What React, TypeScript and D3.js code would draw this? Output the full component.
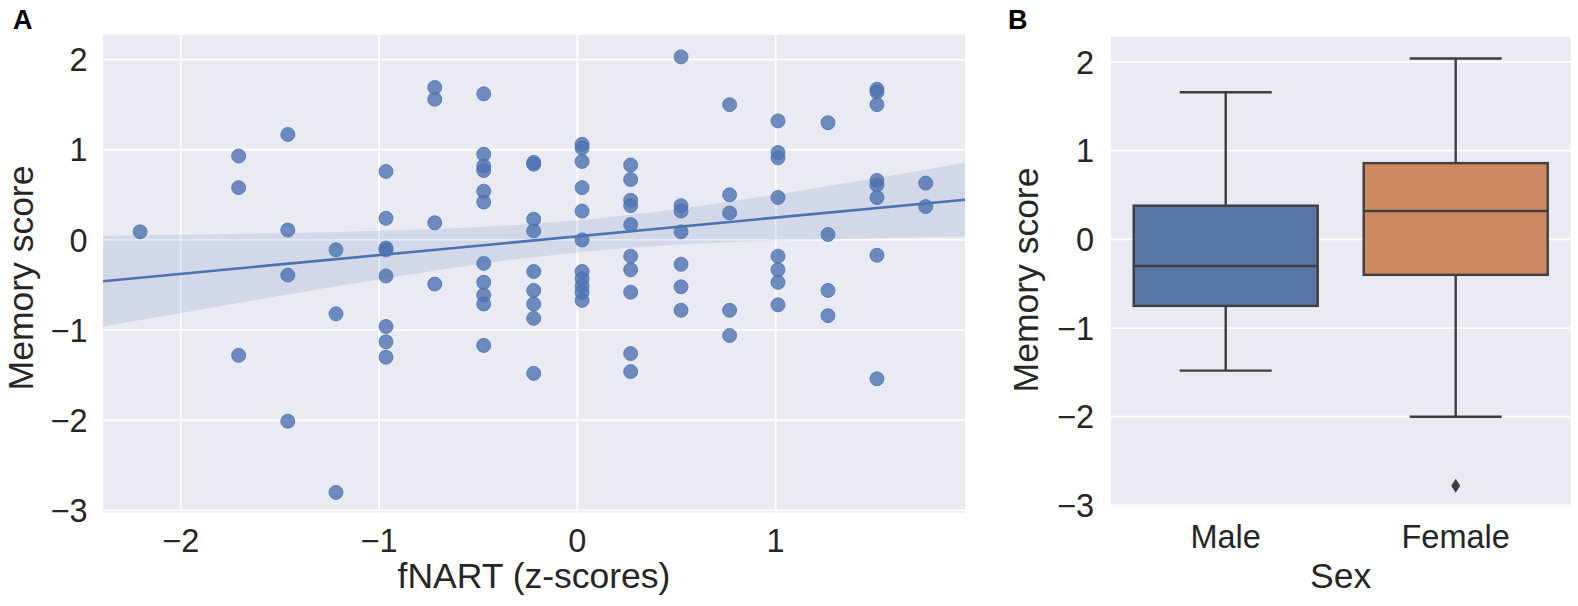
import React from 'react';
import * as d3 from 'd3';

// fNART z-score levels (x positions of the point columns)
const fnartLevels = [-2.205, -1.708, -1.46, -1.217, -0.965, -0.719, -0.472, -0.22, 0.024, 0.269, 0.523, 0.768, 1.012, 1.264, 1.511, 1.757];

// memory scores for each fNART level
const memoryByLevel = [
    [0.09],
    [0.93, 0.58, -1.28],
    [1.17, 0.11, -0.39, -2.01],
    [-0.11, -0.82, -2.8],
    [0.76, 0.24, -0.09, -0.11, -0.4, -0.96, -1.13, -1.3],
    [1.69, 1.56, 0.19, -0.49],
    [1.62, 0.95, 0.82, 0.77, 0.54, 0.42, -0.26, -0.47, -0.61, -0.71, -1.17],
    [0.86, 0.84, 0.23, 0.1, -0.35, -0.56, -0.71, -0.87, -1.48],
    [1.06, 1.02, 0.87, 0.58, 0.32, 0.0, -0.35, -0.43, -0.51, -0.58, -0.67],
    [0.83, 0.67, 0.44, 0.38, 0.17, -0.18, -0.33, -0.58, -1.26, -1.46],
    [2.03, 0.38, 0.32, 0.09, -0.27, -0.52, -0.78],
    [1.5, 0.5, 0.3, -0.78, -1.06],
    [1.32, 0.97, 0.91, 0.47, -0.18, -0.33, -0.47, -0.72],
    [1.3, 0.06, -0.56, -0.84],
    [1.67, 1.64, 1.5, 0.66, 0.61, 0.47, -0.17, -1.54],
    [0.63, 0.37],
];

// box plot, panel B
const sexes = ['Male', 'Female'];
const whiskerLow = [-1.48, -2.0];
const boxQ1 = [-0.75, -0.4];
const boxMedian = [-0.3, 0.32];
const boxQ3 = [0.38, 0.86];
const whiskerHigh = [1.66, 2.04];
const outliers = [[], [-2.78]];
const boxColors = ['#5975a4', '#cc8963'];

const yTicks = [-3, -2, -1, 0, 1, 2];
const xTicksA = [-2, -1, 0, 1];

const FONT = '"Liberation Sans", Arial, Helvetica, sans-serif';
const BG = '#eaeaf2';
const BLUE = '#4c72b0';
const LINE = '#3f3f3f';
const TXT = '#262626';

const fmt = (v: number) => (v < 0 ? '\u2212' + Math.abs(v) : String(v));

export default function App() {
    // panel A scales
    const xA = d3.scaleLinear().domain([-2.392, 1.955]).range([103, 965]);
    const yA = d3.scaleLinear().domain([-3.025, 2.276]).range([512.7, 34.7]);

    // panel B scales
    const xB = d3.scaleBand().domain(sexes).range([1110.7, 1570.7]).paddingInner(0).paddingOuter(0);
    const yB = d3.scaleLinear().domain([-3.015, 2.286]).range([506.7, 36.7]);

    const points = fnartLevels.flatMap((x, i) => memoryByLevel[i].map(y => ({ x, y })));

    // ordinary least squares fit with 95% CI of the mean
    const n = points.length;
    const xbar = d3.mean(points, p => p.x)!;
    const ybar = d3.mean(points, p => p.y)!;
    const sxx = d3.sum(points, p => (p.x - xbar) ** 2);
    const sxy = d3.sum(points, p => (p.x - xbar) * (p.y - ybar));
    const slope = sxy / sxx;
    const intercept = ybar - slope * xbar;
    const sse = d3.sum(points, p => (p.y - intercept - slope * p.x) ** 2);
    const s = Math.sqrt(sse / (n - 2));
    const t = 1.985;
    const [x0, x1] = xA.domain();
    const grid = d3.range(0, 101).map(i => x0 + (x1 - x0) * i / 100);
    const band = grid.map(x => {
        const yh = intercept + slope * x;
        const h = t * s * Math.sqrt(1 / n + (x - xbar) ** 2 / sxx);
        return { x, lo: yh - h, hi: yh + h };
    });
    const area = d3.area<{ x: number; lo: number; hi: number }>()
        .x(d => xA(d.x)).y0(d => yA(d.lo)).y1(d => yA(d.hi));
    const fitLine = d3.line<number>().x(x => xA(x)).y(x => yA(intercept + slope * x));

    const bw = xB.bandwidth();
    const boxW = bw * 0.8;
    const capW = boxW / 2;

    return (
        <svg width={1578} height={606} style={{ position: 'absolute', left: 0, top: 0, background: '#fff' }} fontFamily={FONT}>
            {/* Panel A */}
            <rect x={xA.range()[0]} y={yA.range()[1]} width={xA.range()[1] - xA.range()[0]} height={yA.range()[0] - yA.range()[1]} fill={BG} />
            {yTicks.map(v => (
                <line key={'gy' + v} x1={xA.range()[0]} x2={xA.range()[1]} y1={yA(v)} y2={yA(v)} stroke="#fff" strokeWidth={1.8} />
            ))}
            {xTicksA.map(v => (
                <line key={'gx' + v} x1={xA(v)} x2={xA(v)} y1={yA.range()[0]} y2={yA.range()[1]} stroke="#fff" strokeWidth={1.8} />
            ))}
            {points.map((p, i) => (
                <circle key={i} cx={xA(p.x)} cy={yA(p.y)} r={7} fill={BLUE} fillOpacity={0.8} stroke={BLUE} strokeOpacity={0.8} strokeWidth={1} />
            ))}
            <path d={area(band) || ''} fill={BLUE} fillOpacity={0.15} />
            <path d={fitLine([x0, x1]) || ''} fill="none" stroke={BLUE} strokeWidth={2.6} />
            {yTicks.map(v => (
                <text key={'ty' + v} x={87.5} y={yA(v)} dy="0.36em" textAnchor="end" fontSize={32.5} fill={TXT}>{fmt(v)}</text>
            ))}
            {xTicksA.map(v => (
                <text key={'tx' + v} x={xA(v)} y={552} textAnchor="middle" fontSize={32.5} fill={TXT}>{fmt(v)}</text>
            ))}
            <text x={534} y={588} textAnchor="middle" fontSize={35.5} fill={TXT}>fNART (z-scores)</text>
            <text transform="translate(32.7,278) rotate(-90)" textAnchor="middle" fontSize={35.5} fill={TXT}>Memory score</text>
            <text x={13} y={29} fontSize={27} fontWeight="bold" fill="#000">A</text>

            {/* Panel B */}
            <rect x={xB.range()[0]} y={yB.range()[1]} width={xB.range()[1] - xB.range()[0]} height={yB.range()[0] - yB.range()[1]} fill={BG} />
            {yTicks.map(v => (
                <line key={'gby' + v} x1={xB.range()[0]} x2={xB.range()[1]} y1={yB(v)} y2={yB(v)} stroke="#fff" strokeWidth={1.8} />
            ))}
            {sexes.map((sx, i) => {
                const cx = xB(sx)! + bw / 2;
                return (
                    <g key={sx} stroke={LINE} strokeWidth={2.4}>
                        <line x1={cx} x2={cx} y1={yB(boxQ1[i])} y2={yB(whiskerLow[i])} />
                        <line x1={cx} x2={cx} y1={yB(boxQ3[i])} y2={yB(whiskerHigh[i])} />
                        <line x1={cx - capW / 2} x2={cx + capW / 2} y1={yB(whiskerLow[i])} y2={yB(whiskerLow[i])} />
                        <line x1={cx - capW / 2} x2={cx + capW / 2} y1={yB(whiskerHigh[i])} y2={yB(whiskerHigh[i])} />
                        <rect x={cx - boxW / 2} y={yB(boxQ3[i])} width={boxW} height={yB(boxQ1[i]) - yB(boxQ3[i])} fill={boxColors[i]} />
                        <line x1={cx - boxW / 2} x2={cx + boxW / 2} y1={yB(boxMedian[i])} y2={yB(boxMedian[i])} />
                        {outliers[i].map((o, j) => (
                            <path key={j} d={`M${cx},${yB(o) - 7}L${cx + 4.5},${yB(o)}L${cx},${yB(o) + 7}L${cx - 4.5},${yB(o)}Z`} fill={LINE} stroke="none" />
                        ))}
                    </g>
                );
            })}
            {yTicks.map(v => (
                <text key={'tby' + v} x={1094} y={yB(v)} dy="0.36em" textAnchor="end" fontSize={32.5} fill={TXT}>{fmt(v)}</text>
            ))}
            {sexes.map(sx => (
                <text key={'tbx' + sx} x={xB(sx)! + bw / 2} y={548} textAnchor="middle" fontSize={32.5} fill={TXT}>{sx}</text>
            ))}
            <text x={1340.7} y={588} textAnchor="middle" fontSize={35.5} fill={TXT}>Sex</text>
            <text transform="translate(1037.5,280) rotate(-90)" textAnchor="middle" fontSize={35.5} fill={TXT}>Memory score</text>
            <text x={1008} y={29} fontSize={27} fontWeight="bold" fill="#000">B</text>
        </svg>
    );
}
